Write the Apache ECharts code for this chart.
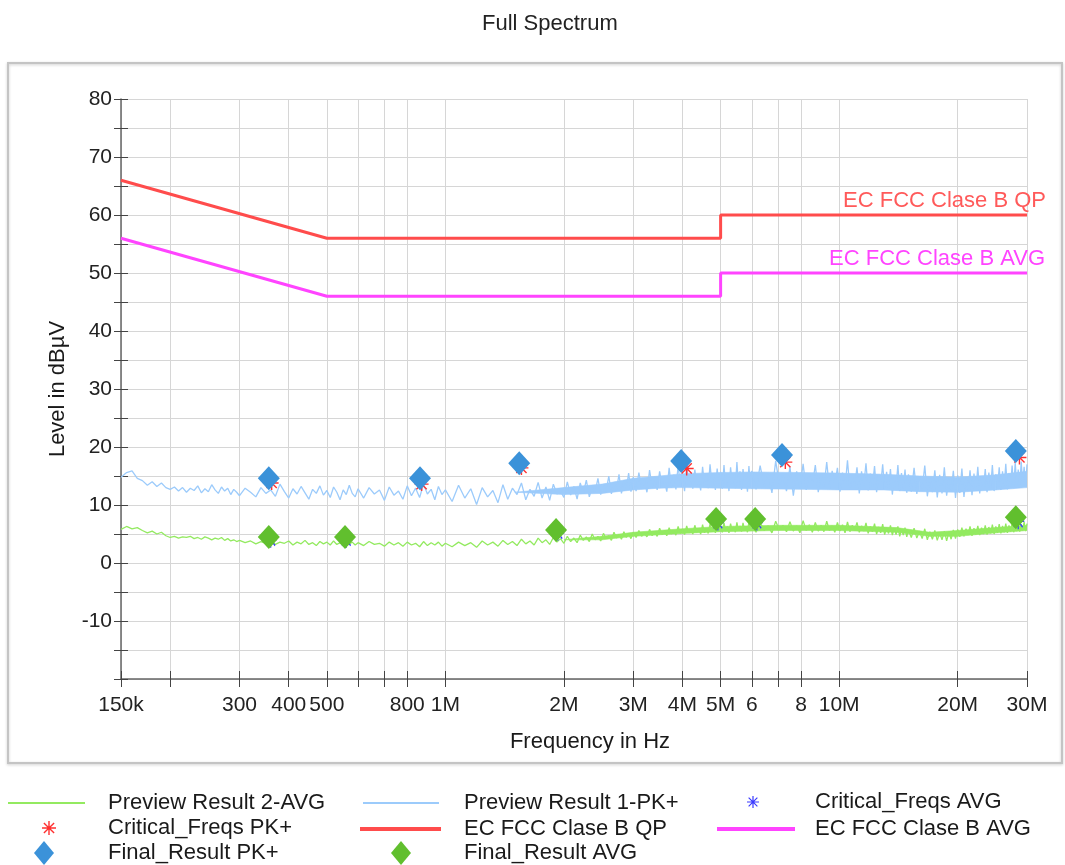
<!DOCTYPE html>
<html>
<head>
<meta charset="utf-8">
<title>Full Spectrum</title>
<script src="https://cdn.jsdelivr.net/npm/echarts@6/dist/echarts.min.js"></script>
<style>
html, body { margin: 0; padding: 0; background: #fff; }
#chart { width: 1065px; height: 865px; }
</style>
</head>
<body>
<div id="chart"></div>
<script>
// receiver sweep grid in kHz, shared by both preview traces
const sweepKHz = [
  150,155,160,165,170,175,180,185,190,195,200,205,210,215,220,225,230,235,240,245,250,255,260,265,270,275,280,285,290,295,
  300,310,320,330,340,350,360,370,380,390,400,410,420,430,440,450,460,470,480,490,500,510,520,530,540,550,560,570,580,590,
  600,620,640,660,680,700,720,740,760,780,800,820,840,860,880,900,920,940,960,980,
  1000,1040,1080,1120,1160,1200,1240,1280,1320,1360,1400,1440,1480,1520,1560,1600,1640,1680,1720,1760,1800,1840,1880,1920,1960,
  2000,2040,2080,2120,2160,2200,2240,2280,2320,2360,2400,2440,2480,2520,2560,2600,2640,2680,2720,2760,2800,2840,2880,2920,2960,
  3000,3050,3100,3150,3200,3250,3300,3350,3400,3450,3500,3550,3600,3650,3700,3750,3800,3850,3900,3950,
  4000,4050,4100,4150,4200,4250,4300,4350,4400,4450,4500,4550,4600,4650,4700,4750,4800,4850,4900,4950,
  5000,5050,5100,5150,5200,5250,5300,5350,5400,5450,5500,5550,5600,5650,5700,5750,5800,5850,5900,5950,
  6000,6150,6300,6450,6600,6750,6900,7050,7200,7350,7500,7650,7800,7950,8100,8250,8400,8550,8700,8850,
  9000,9150,9300,9450,9600,9750,9900,10050,10200,10350,10500,10650,10800,10950,11100,11250,11400,11550,11700,11850,
  12000,12150,12300,12450,12600,12750,12900,13050,13200,13350,13500,13650,13800,13950,14100,14250,14400,14550,14700,14850,
  15000,15250,15500,15750,16000,16250,16500,16750,17000,17250,17500,17750,18000,18250,18500,18750,19000,19250,19500,19750,
  20000,20250,20500,20750,21000,21250,21500,21750,22000,22250,22500,22750,23000,23250,23500,23750,24000,24250,24500,24750,
  25000,25250,25500,25750,26000,26250,26500,26750,27000,27250,27500,27750,28000,28250,28500,28750,29000,29250,29500,29750,30000
];

// Preview Result 1-PK+ (dBuV)
const previewPk = [
  14.8,15.6,15.9,14.6,14.2,13.4,14.0,13.2,13.8,13.0,12.7,13.1,12.4,13.0,12.2,12.9,12.5,13.3,12.1,12.8,12.3,13.5,12.6,12.0,13.1,12.4,12.9,11.8,12.7,12.2,
  11.6,12.9,12.2,11.4,13.0,12.0,12.6,11.5,13.6,12.3,11.2,12.8,11.9,13.2,12.1,11.0,12.7,12.0,13.3,11.7,12.5,11.3,13.1,12.2,10.9,12.6,11.8,13.4,12.0,11.4,
  12.8,11.2,13.0,11.9,12.6,10.8,13.1,11.7,12.4,11.0,13.3,11.6,12.9,11.3,13.6,11.9,12.7,10.9,13.2,11.8,
  12.6,10.6,13.4,11.2,12.8,10.1,13.0,11.4,12.5,10.4,13.5,11.0,12.9,11.8,13.8,10.9,12.7,11.5,13.9,11.2,13.1,10.8,13.6,11.9,12.4,
  11.3,14.0,11.7,13.2,11.0,13.8,12.1,14.3,11.4,13.0,12.2,14.6,11.8,13.5,12.4,15.0,11.9,13.9,12.6,15.3,12.0,14.2,12.8,15.5,12.3,
  14.8,12.4,15.6,12.9,14.3,12.2,16.0,13.1,14.9,12.6,15.8,13.4,14.1,12.3,16.4,13.0,15.2,12.7,16.8,13.5,
  15.0,12.4,17.2,13.2,15.5,12.8,16.1,13.6,14.7,12.5,16.6,13.3,15.3,12.9,17.0,13.8,15.1,12.6,16.3,13.4,
  15.7,12.8,16.9,13.1,15.4,12.4,16.5,13.7,15.0,12.9,17.4,13.3,15.8,12.6,16.2,13.9,15.1,12.3,16.7,13.5,
  15.9,12.7,16.8,13.2,15.4,12.1,17.6,13.5,15.2,12.4,16.6,11.6,15.8,13.0,17.1,12.6,15.5,13.4,16.9,12.2,
  15.3,13.1,17.4,12.8,15.9,13.6,16.4,12.3,15.6,13.0,17.7,12.7,15.1,13.3,16.5,12.0,15.8,13.4,17.2,12.5,
  15.4,13.1,16.7,12.2,15.2,13.5,17.0,12.6,15.7,12.9,16.2,11.8,15.0,13.2,16.9,12.4,15.5,12.8,16.1,12.1,
  15.3,12.3,16.4,11.9,15.0,12.6,16.8,11.5,14.7,12.2,16.0,11.3,15.2,12.0,16.5,11.6,14.6,12.3,15.9,11.2,
  15.1,12.1,16.3,11.4,14.8,12.4,16.0,11.7,15.4,12.5,16.6,12.0,15.0,12.8,16.2,12.2,15.6,12.9,16.9,12.4,
  15.3,13.0,16.5,12.6,15.8,13.2,17.1,12.7,15.5,13.3,16.8,12.9,17.3,13.6,16.1,13.1,17.5,13.8,16.6,13.4,17.0
];

// Preview Result 2-AVG (dBuV)
const previewAvg = [
  5.8,6.3,5.9,6.1,5.6,5.2,5.5,5.0,5.3,4.7,4.4,4.6,4.3,4.5,4.4,4.6,4.2,4.4,4.1,4.5,4.3,4.0,4.3,4.1,4.4,3.9,4.2,3.8,4.0,3.7,
  3.9,3.5,3.8,3.3,3.7,3.4,3.9,3.2,3.6,3.4,3.8,3.1,3.6,3.3,3.9,3.2,3.5,3.0,3.7,3.3,3.6,3.1,3.8,3.2,3.5,3.0,3.7,3.3,3.6,3.1,
  3.5,3.0,3.7,3.2,3.4,2.9,3.6,3.1,3.5,2.9,3.6,3.1,3.4,2.8,3.7,3.0,3.5,3.1,3.6,2.9,
  3.4,2.8,3.6,3.0,3.5,2.7,3.8,3.1,3.6,2.9,3.9,3.2,3.7,3.0,4.1,3.3,3.8,3.1,4.3,3.5,4.0,3.2,4.4,3.6,4.2,
  3.4,4.6,3.7,4.3,3.5,4.8,3.9,4.5,3.7,5.0,4.0,4.6,3.8,5.1,4.2,4.7,3.9,5.3,4.3,4.9,4.1,5.4,4.4,5.0,4.2,
  5.3,4.4,5.6,4.6,5.2,4.5,5.8,4.7,5.4,4.6,6.0,4.9,5.5,4.7,6.1,5.0,5.6,4.8,6.3,5.1,
  5.7,4.9,6.4,5.2,5.8,5.0,6.5,5.3,5.9,5.0,6.6,5.2,6.0,5.1,6.7,5.4,6.1,5.2,6.8,5.5,
  6.2,5.3,6.9,5.5,6.3,5.2,6.8,5.6,6.2,5.3,7.0,5.6,6.4,5.4,6.9,5.7,6.3,5.3,7.1,5.6,
  6.5,5.3,7.0,5.6,6.4,5.2,7.2,5.7,6.5,5.4,7.1,5.5,6.4,5.2,7.3,5.6,6.6,5.3,7.0,5.5,
  6.5,5.4,7.2,5.6,6.4,5.3,7.0,5.5,6.6,5.2,7.1,5.4,6.5,5.6,7.0,5.3,6.4,5.5,6.9,5.1,
  6.3,5.4,6.8,5.0,6.2,5.2,6.7,4.9,6.1,5.1,6.5,4.8,6.0,4.9,6.3,4.6,5.8,4.8,6.1,4.5,
  5.7,4.4,6.0,4.3,5.5,4.2,5.9,4.0,5.4,4.1,5.6,3.9,5.2,4.0,5.5,3.8,5.3,4.1,5.7,4.2,
  5.8,4.5,6.1,4.6,5.9,4.8,6.3,4.7,6.0,4.9,6.4,4.8,6.1,5.0,6.5,4.9,6.2,5.1,6.6,5.0,
  6.3,5.2,6.7,5.1,6.4,5.3,6.8,5.2,6.5,5.4,6.9,5.3,6.6,5.5,7.0,5.4,6.7,5.6,7.1,5.5,6.8
];

// solid core of the dense part of each preview trace (read as low / high envelope)
const pkCoreKHz = [1500, 2000, 2500, 3000, 3500, 4000, 5000, 6000, 8000, 10000, 13000, 16000, 20000, 25000, 30000];
const pkCoreLow = [12.2, 11.8, 12.0, 12.6, 12.9, 13.0, 12.9, 12.8, 12.7, 12.6, 12.6, 12.3, 12.2, 12.6, 13.0];
const pkCoreHigh = [12.2, 13.0, 13.6, 14.6, 15.0, 15.4, 15.6, 15.7, 15.6, 15.5, 15.3, 15.0, 14.8, 15.2, 15.8];
const avgCoreKHz = [2000, 2500, 3000, 4000, 5000, 7000, 10000, 14000, 17000, 20000, 25000, 30000];
const avgCoreLow = [4.0, 4.0, 4.6, 5.1, 5.4, 5.6, 5.6, 5.3, 4.6, 4.6, 5.2, 5.6];
const avgCoreHigh = [4.0, 4.6, 5.3, 5.9, 6.3, 6.5, 6.5, 6.1, 5.3, 5.6, 6.1, 6.5];

// limit lines
const limitKHz = [150, 500, 5000, 5000, 30000];
const limitQP = [66, 56, 56, 60, 60];
const limitAVG = [56, 46, 46, 50, 50];

// final results
const finalPkKHz = [356, 862, 1540, 3970, 7160, 28100];
const finalPkLevel = [14.6, 14.6, 17.2, 17.6, 18.6, 19.3];
const finalAvgKHz = [356, 556, 1910, 4870, 6120, 28100];
const finalAvgLevel = [4.5, 4.5, 5.7, 7.6, 7.6, 7.9];

// critical frequencies (mostly hidden behind the final markers)
const critPkKHz = [362, 870, 1560, 4100, 7300, 28700];
const critPkLevel = [13.8, 13.6, 16.4, 16.3, 17.4, 18.2];
const critAvgKHz = [360, 560, 1930, 4920, 6180, 28500];
const critAvgLevel = [4.0, 4.0, 5.2, 7.0, 7.0, 7.2];

// x axis ticks / labels
const xTickKHz = [150, 200, 300, 400, 500, 600, 700, 800, 1000, 2000, 3000, 4000, 5000, 6000, 7000, 8000, 10000, 20000, 30000];
const xLabelKHz = [150, 300, 400, 500, 800, 1000, 2000, 3000, 4000, 5000, 6000, 8000, 10000, 20000, 30000];
const xLabelText = ['150k', '300', '400', '500', '800', '1M', '2M', '3M', '4M', '5M', '6', '8', '10M', '20M', '30M'];

const FONT = '"Liberation Sans", Arial, sans-serif';
const lg = k => Math.log10(k * 1000);
const pts = (f, v) => f.map((x, i) => [lg(x), v[i]]);
const rows = (f, lo, hi) => f.map((x, i) => [lg(x), lo[i], hi[i]]);
const xMin = lg(150), xMax = lg(30000);

const starPath = 'path://M9,0h2v20h-2zM0,9h20v2h-20zM2,3.4L3.4,2L18,16.6L16.6,18zM16.6,2L18,3.4L3.4,18L2,16.6z';

const legendCells = [
  { name: 'Preview Result 2-AVG', icon: 'rect', left: 8, y: 803, w: 77, h: 2, textX: 108 },
  { name: 'Preview Result 1-PK+', icon: 'rect', left: 363, y: 803, w: 76, h: 2, textX: 464 },
  { name: 'Critical_Freqs AVG', icon: starPath, left: 747, y: 802, w: 12, h: 16, textX: 815 },
  { name: 'Critical_Freqs PK+', icon: starPath, left: 42, y: 828, w: 14, h: 14, textX: 108 },
  { name: 'EC FCC Clase B QP', icon: 'rect', left: 360, y: 829, w: 81, h: 4, textX: 464 },
  { name: 'EC FCC Clase B AVG', icon: 'rect', left: 717, y: 829, w: 78, h: 4, textX: 815 },
  { name: 'Final_Result PK+', icon: 'diamond', left: 34, y: 853, w: 20, h: 24, textX: 108 },
  { name: 'Final_Result AVG', icon: 'diamond', left: 391, y: 853, w: 20, h: 24, textX: 464 }
];

const PK_COLOR = '#9ccbfb';
const AVG_COLOR = '#93ea60';

// band between low/high envelope, drawn segment by segment
function bandItem(color) {
  return function (params, api) {
    const i = params.dataIndexInside;
    if (i >= params.dataInsideLength - 1) return null;
    const p1 = api.coord([api.value(0, i), api.value(2, i)]);
    const p2 = api.coord([api.value(0, i + 1), api.value(2, i + 1)]);
    const p3 = api.coord([api.value(0, i + 1), api.value(1, i + 1)]);
    const p4 = api.coord([api.value(0, i), api.value(1, i)]);
    return {
      type: 'polygon',
      shape: { points: [p1, p2, p3, p4] },
      style: { fill: color, stroke: color, lineWidth: 0.6 }
    };
  };
}

const chart = echarts.init(document.getElementById('chart'));

chart.setOption({
  animation: false,
  backgroundColor: '#fff',
  title: {
    text: 'Full Spectrum',
    left: 477,
    top: 8,
    textStyle: { fontFamily: FONT, fontSize: 22, fontWeight: 'normal', color: '#222' }
  },
  graphic: [{
    type: 'rect',
    silent: true,
    z: -10,
    shape: { x: 8, y: 63, width: 1054, height: 700 },
    style: { fill: 'none', stroke: '#c4c4c4', lineWidth: 2, shadowBlur: 3, shadowColor: 'rgba(0,0,0,0.2)', shadowOffsetY: 1 }
  }],
  legend: legendCells.map(c => ({
    data: [c.name],
    left: c.left,
    top: c.y - 12,
    padding: 0,
    itemWidth: c.w,
    itemHeight: c.h,
    icon: c.icon,
    selectedMode: false,
    textStyle: {
      fontFamily: FONT, fontSize: 22, color: '#1a1a1a', lineHeight: 24,
      padding: [0, 0, 0, c.textX - c.left - c.w - 5]
    }
  })),
  grid: { left: 121, right: 38, top: 99, bottom: 186 },
  xAxis: [{
    type: 'value',
    min: xMin,
    max: xMax,
    name: 'Frequency in Hz',
    nameLocation: 'middle',
    nameGap: 52,
    nameTextStyle: { fontFamily: FONT, fontSize: 22, color: '#1a1a1a', padding: [0, 0, 0, 32] },
    axisLine: { onZero: false, lineStyle: { color: '#666', width: 1.5 } },
    axisTick: { customValues: xTickKHz.map(lg), length: 8, lineStyle: { color: '#444' } },
    axisLabel: {
      customValues: xLabelKHz.map(lg),
      margin: 16,
      fontFamily: FONT, fontSize: 21, color: '#222',
      formatter: v => {
        const i = xLabelKHz.findIndex(k => Math.abs(lg(k) - v) < 1e-6);
        return i >= 0 ? xLabelText[i] : '';
      }
    },
    splitLine: { show: true, lineStyle: { color: '#d6d6d6', width: 1 } }
  }, {
    type: 'value',
    min: xMin,
    max: xMax,
    position: 'bottom',
    axisLine: { show: false, onZero: false },
    axisTick: { customValues: xTickKHz.map(lg), inside: true, length: 8, lineStyle: { color: '#444' } },
    axisLabel: { show: false },
    splitLine: { show: false }
  }],
  yAxis: [{
    type: 'value',
    min: -20,
    max: 80,
    interval: 5,
    name: 'Level in dB\u00b5V',
    nameLocation: 'middle',
    nameGap: 52,
    nameTextStyle: { fontFamily: FONT, fontSize: 22, color: '#1a1a1a' },
    axisLine: { show: true, onZero: false, lineStyle: { color: '#666', width: 1.5 } },
    axisTick: { show: true, length: 7, lineStyle: { color: '#444' } },
    axisLabel: {
      margin: 9,
      fontFamily: FONT, fontSize: 21, color: '#222',
      formatter: v => (v % 10 === 0 && v > -20) ? String(v) : ''
    },
    splitLine: { show: true, lineStyle: { color: '#d6d6d6', width: 1 } }
  }, {
    type: 'value',
    min: -20,
    max: 80,
    interval: 5,
    position: 'left',
    axisLine: { show: false, onZero: false },
    axisTick: { show: true, inside: true, length: 7, lineStyle: { color: '#444' } },
    axisLabel: { show: false },
    splitLine: { show: false }
  }],
  series: [
    // filled cores under the dense traces
    {
      name: 'pkCore', type: 'custom', silent: true, z: 1, clip: true,
      data: rows(pkCoreKHz, pkCoreLow, pkCoreHigh),
      renderItem: bandItem(PK_COLOR)
    },
    {
      name: 'avgCore', type: 'custom', silent: true, z: 1, clip: true,
      data: rows(avgCoreKHz, avgCoreLow, avgCoreHigh),
      renderItem: bandItem(AVG_COLOR)
    },
    {
      name: 'Preview Result 2-AVG',
      type: 'line',
      data: pts(sweepKHz, previewAvg),
      showSymbol: false,
      z: 2,
      itemStyle: { color: AVG_COLOR },
      lineStyle: { color: AVG_COLOR, width: 1.3 }
    },
    {
      name: 'Preview Result 1-PK+',
      type: 'line',
      data: pts(sweepKHz, previewPk),
      showSymbol: false,
      z: 2,
      itemStyle: { color: PK_COLOR },
      lineStyle: { color: PK_COLOR, width: 1.3 }
    },
    {
      name: 'Critical_Freqs AVG',
      type: 'scatter',
      data: pts(critAvgKHz, critAvgLevel),
      symbol: starPath,
      symbolSize: [12, 16],
      z: 3,
      itemStyle: { color: '#3a3aff', opacity: 1 }
    },
    {
      name: 'Critical_Freqs PK+',
      type: 'scatter',
      data: pts(critPkKHz, critPkLevel),
      symbol: starPath,
      symbolSize: [14, 14],
      z: 3,
      itemStyle: { color: '#ff3030', opacity: 1 }
    },
    {
      name: 'EC FCC Clase B QP',
      type: 'line',
      data: pts(limitKHz, limitQP),
      showSymbol: false,
      z: 4,
      itemStyle: { color: '#ff4c4c' },
      lineStyle: { color: '#ff4c4c', width: 3 },
      endLabel: {
        show: true, formatter: '{a}', align: 'right', verticalAlign: 'bottom', distance: 19,
        padding: [0, 0, 3, 0], fontFamily: FONT, fontSize: 22, color: '#ff5a5a'
      }
    },
    {
      name: 'EC FCC Clase B AVG',
      type: 'line',
      data: pts(limitKHz, limitAVG),
      showSymbol: false,
      z: 4,
      itemStyle: { color: '#ff44ff' },
      lineStyle: { color: '#ff44ff', width: 3 },
      endLabel: {
        show: true, formatter: '{a}', align: 'right', verticalAlign: 'bottom', distance: 18,
        padding: [0, 0, 3, 0], fontFamily: FONT, fontSize: 22, color: '#ff44ff'
      }
    },
    {
      name: 'Final_Result PK+',
      type: 'scatter',
      data: pts(finalPkKHz, finalPkLevel),
      symbol: 'diamond',
      symbolSize: [22, 24],
      z: 5,
      itemStyle: { color: '#3b92d9', opacity: 1 }
    },
    {
      name: 'Final_Result AVG',
      type: 'scatter',
      data: pts(finalAvgKHz, finalAvgLevel),
      symbol: 'diamond',
      symbolSize: [22, 24],
      z: 5,
      itemStyle: { color: '#61bf2e', opacity: 1 }
    }
  ]
});
</script>
</body>
</html>
